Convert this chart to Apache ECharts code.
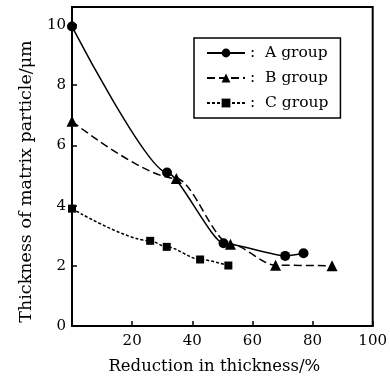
<!DOCTYPE html>
<html>
<head>
<meta charset="utf-8">
<title>Thickness of matrix particle</title>
<script src="https://cdn.jsdelivr.net/npm/echarts@6/dist/echarts.min.js"></script>
<style>
  html, body { margin: 0; padding: 0; background: #fff; }
  #main { width: 390px; height: 380px; }
</style>
</head>
<body>
<div id="main"></div>
<script>
// data: [reduction %, thickness um]
var groupA = [[0, 9.95], [31.6, 5.1], [50.4, 2.75], [70.9, 2.33], [77, 2.42]];
var groupB = [[0, 6.8], [34.7, 4.9], [52.7, 2.72], [67.7, 2.02], [86.5, 2.0]];
var groupC = [[0, 3.9], [26, 2.83], [31.5, 2.63], [42.6, 2.21], [52, 2.01]];
var names = ['A group', 'B group', 'C group'];

var font = 'DejaVu Serif';
var chart = echarts.init(document.getElementById('main'));

function makeSeries(name, data, symbol, size, dash, smooth) {
    return {
        name: name,
        type: 'line',
        data: data,
        smooth: smooth,
        smoothMonotone: 'x',
        symbol: symbol,
        symbolSize: size,
        itemStyle: { color: '#000' },
        lineStyle: { color: '#000', width: 1.5, type: dash }
    };
}

var option = {
    animation: false,
    backgroundColor: '#fff',
    grid: {
        left: 72, right: 17, top: 7, bottom: 54,
        show: true, borderColor: '#000', borderWidth: 2
    },
    legend: {
        orient: 'vertical',
        left: 194, top: 38,
        padding: [7, 12, 7, 12],
        itemWidth: 38, itemHeight: 11, itemGap: 9,
        borderColor: '#000', borderWidth: 1.5,
        data: names,
        formatter: function (n) { return ':  ' + n; },
        textStyle: { fontFamily: font, fontSize: 15.5, color: '#000' }
    },
    xAxis: {
        type: 'value', min: 0, max: 100, interval: 20,
        name: 'Reduction in thickness/%',
        nameLocation: 'middle', nameGap: 32,
        nameTextStyle: { fontFamily: font, fontSize: 16.5, color: '#000', padding: [0, 16, 0, 0] },
        axisLine: { lineStyle: { color: '#000', width: 2 } },
        axisTick: { inside: true, length: 5, lineStyle: { color: '#000', width: 1.5 } },
        splitLine: { show: false },
        axisLabel: {
            fontFamily: font, fontSize: 15, color: '#000', margin: 8,
            formatter: function (v) { return v === 0 ? '' : v; }
        }
    },
    yAxis: {
        type: 'value', min: 0, max: 10.6, interval: 2,
        name: 'Thickness of matrix particle/\u03bcm',
        nameLocation: 'middle', nameGap: 37,
        nameTextStyle: { fontFamily: font, fontSize: 17.5, color: '#000', padding: [0, 30, 0, 0] },
        axisLine: { lineStyle: { color: '#000', width: 2 } },
        axisTick: { inside: true, length: 5, lineStyle: { color: '#000', width: 1.5 } },
        splitLine: { show: false },
        axisLabel: {
            fontFamily: font, fontSize: 15, color: '#000', margin: 6,
            formatter: function (v) { return v % 2 === 0 ? v : ''; }
        }
    },
    series: [
        makeSeries(names[0], groupA, 'circle', 10, 'solid', 0.2),
        makeSeries(names[1], groupB, 'triangle', 11, [8, 4], 0.3),
        makeSeries(names[2], groupC, 'rect', 8, [3, 2], 0.3)
    ]
};

chart.setOption(option);
</script>
</body>
</html>
